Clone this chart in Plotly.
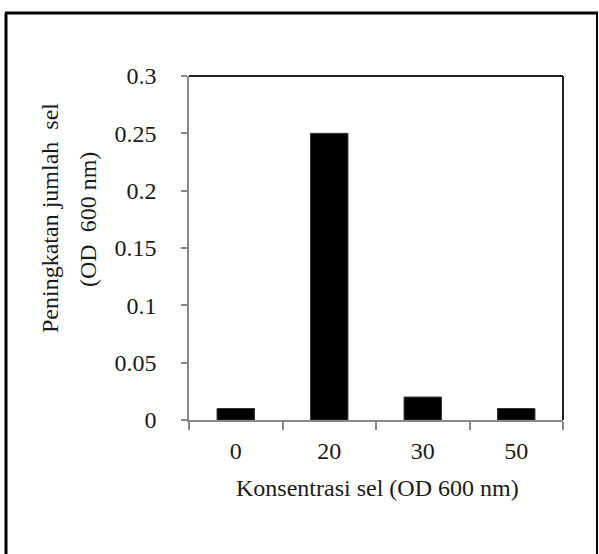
import plotly.graph_objects as go

categories = ["0", "20", "30", "50"]
values = [0.01, 0.25, 0.02, 0.01]
y_ticks = [0, 0.05, 0.1, 0.15, 0.2, 0.25, 0.3]
y_tick_labels = ["0", "0.05", "0.1", "0.15", "0.2", "0.25", "0.3"]

W, H = 599, 554
L, R, T, B = 189, 36, 76, 134
pw, ph = W - L - R, H - T - B

def px(x):
    return (x - L) / pw

def py(y):
    return 1 - (y - T) / ph

font = dict(family="Liberation Serif, Times New Roman, serif", size=24, color="#1a1a1a")

fig = go.Figure(go.Bar(x=categories, y=values, marker=dict(color="black", line=dict(color="#333", width=1)), width=0.4))

fig.update_layout(
    width=W, height=H,
    margin=dict(l=L, r=R, t=T, b=B),
    paper_bgcolor="white", plot_bgcolor="white",
    font=font, showlegend=False,
    bargap=0.6,
)
fig.update_xaxes(
    type="category", showgrid=False, showline=True, linecolor="#888", linewidth=1.5,
    ticks="outside", tickson="boundaries", ticklen=8, tickcolor="#888", tickwidth=1.5,
    tickfont=font, ticklabelstandoff=8,
)
fig.update_yaxes(
    range=[0, 0.3], tickvals=y_ticks, ticktext=y_tick_labels, showgrid=False,
    showline=True, linecolor="#888", linewidth=1.5, ticks="outside", ticklen=6,
    tickcolor="#888", tickwidth=1.5, tickfont=font, ticklabelstandoff=20, zeroline=False,
)

shapes = [
    # plot frame top and right
    dict(type="line", xref="paper", yref="paper", x0=0, x1=1, y0=1, y1=1, line=dict(color="#222", width=2)),
    dict(type="line", xref="paper", yref="paper", x0=1, x1=1, y0=0, y1=1, line=dict(color="#222", width=2)),
    # outer border
    dict(type="line", xref="paper", yref="paper", x0=px(6), x1=px(6), y0=py(13), y1=py(600), line=dict(color="black", width=3)),
    dict(type="line", xref="paper", yref="paper", x0=px(5), x1=px(598), y0=py(13), y1=py(13), line=dict(color="black", width=3)),
    dict(type="line", xref="paper", yref="paper", x0=px(597), x1=px(597), y0=py(13), y1=py(600), line=dict(color="black", width=2)),
]
fig.update_layout(shapes=shapes)

annotations = [
    dict(text="Peningkatan jumlah  sel", xref="paper", yref="paper", x=px(50), y=py(218),
         showarrow=False, textangle=-90, font=font, xanchor="center", yanchor="middle"),
    dict(text="(OD  600 nm)", xref="paper", yref="paper", x=px(88), y=py(219),
         showarrow=False, textangle=-90, font=font, xanchor="center", yanchor="middle"),
    dict(text="Konsentrasi sel (OD 600 nm)", xref="paper", yref="paper", x=px(377), y=py(488),
         showarrow=False, font=font, xanchor="center", yanchor="middle"),
]
fig.update_layout(annotations=annotations)

fig.write_html("out.html", config={"displayModeBar": False},
               post_script="document.body.style.margin='0';document.body.style.overflow='hidden';")
